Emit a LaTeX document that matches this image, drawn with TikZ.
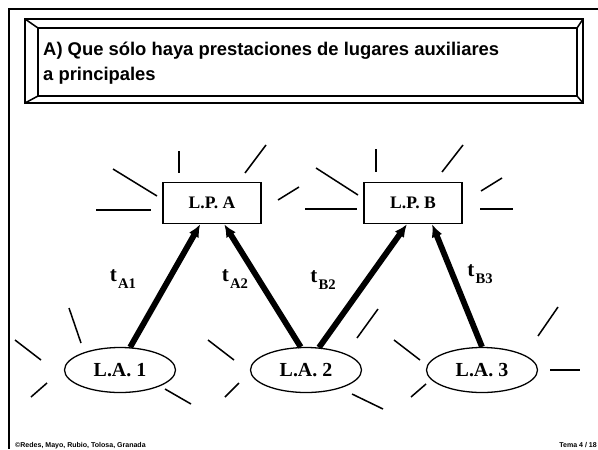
\documentclass[tikz,border=0pt]{standalone}
\usepackage{fontspec}
\setmainfont{Liberation Serif}
\setsansfont{Liberation Sans}
\usetikzlibrary{arrows.meta, shapes.geometric}

% label of a transition: t with a lowered index
\newcommand{\tlab}[1]{t\hspace{1pt}\raisebox{-0.3em}{\fontsize{12.5}{13}\selectfont #1}}

\begin{document}
\begin{tikzpicture}[x=0.03cm, y=-0.03cm]

        \tikzset{
            lugarp/.style={rectangle, draw=black, line width=1.3pt, minimum width=2.94cm, minimum height=1.23cm, font=\fontsize{15}{18}\selectfont\bfseries},
            lugara/.style={ellipse, draw=black, line width=1.1pt, minimum width=3.33cm, minimum height=1.35cm, inner sep=0pt, font=\fontsize{17}{19}\selectfont\bfseries},
            presta/.style={-{Latex[length=3.8mm, width=3.4mm]}, line width=5pt},
            rayo/.style={line width=1.3pt},
            etiq/.style={inner sep=0pt, font=\fontsize{18}{20}\selectfont\bfseries},
            pie/.style={inner sep=0pt, font=\sffamily\bfseries\fontsize{6}{7}\selectfont}
        }

        \useasboundingbox (0,0) rectangle (598,449);

        % frame of the slide
        \draw[line width=2.2pt] (598,9) -- (9,9) -- (9,449);

        % title, in a bevelled box
        \draw[line width=1.3pt] (25,19) rectangle (583,103);
        \draw[line width=1.3pt] (38,28) rectangle (577,96);
        \draw[line width=1.3pt] (25,19) -- (38,28);
        \draw[line width=1.3pt] (583,19) -- (577,28);
        \draw[line width=1.3pt] (25,103) -- (38,96);
        \draw[line width=1.3pt] (583,103) -- (577,96);
        \node[anchor=north west, inner sep=0pt, align=left, font=\sffamily\bfseries\fontsize{15.7}{21.3}\selectfont] (tit) at (43,42) {A) Que sólo haya prestaciones de lugares auxiliares\\a principales};

        % principal places, on top
        \node[lugarp] at (212,203) (lpa) {L.P. A};
        \node[lugarp] at (413,203) (lpb) {L.P. B};

        % auxiliary places, below
        \node[lugara] at (120,370) (la1) {L.A. 1};
        \node[lugara] at (306,370) (la2) {L.A. 2};
        \node[lugara] at (482,370) (la3) {L.A. 3};

        % rays round L.P. A
        \draw[rayo] (179,151) -- (179,173);
        \draw[rayo] (245,173) -- (266,145);
        \draw[rayo] (113,169) -- (157,196);
        \draw[rayo] (96,210) -- (151,210);
        \draw[rayo] (278,200) -- (299,187);

        % rays round L.P. B
        \draw[rayo] (376,149) -- (376,172);
        \draw[rayo] (442,172) -- (463,145);
        \draw[rayo] (316,168) -- (358,195);
        \draw[rayo] (305,209) -- (357,209);
        \draw[rayo] (481,191) -- (502,178);
        \draw[rayo] (480,209) -- (513,209);

        % rays round L.A. 1
        \draw[rayo] (69,308) -- (81,343);
        \draw[rayo] (15,340) -- (41,360);
        \draw[rayo] (31,397) -- (47,383);
        \draw[rayo] (165,389) -- (191,404);

        % rays round L.A. 2
        \draw[rayo] (208,340) -- (234,360);
        \draw[rayo] (225,397) -- (239,383);
        \draw[rayo] (352,394) -- (383,409);
        \draw[rayo] (357,338) -- (378,309);

        % rays round L.A. 3
        \draw[rayo] (394,340) -- (420,360);
        \draw[rayo] (411,397) -- (426,384);
        \draw[rayo] (538,336) -- (558,307);
        \draw[rayo] (550,370) -- (580,370);

        % transitions, auxiliary to principal
        \draw[presta] (la1.66) -- (lpa.241);
        \draw[presta] (la2.103) -- (lpa.300);
        \draw[presta] (la2.60) -- (lpb.254);
        \draw[presta] (la3.north) -- (lpb.312);

        % names of the transitions
        \node[etiq] at (123,279) (ta1) {\tlab{A1}};
        \node[etiq] at (235,279) (ta2) {\tlab{A2}};
        \node[etiq] at (323,280) (tb2) {\tlab{B2}};
        \node[etiq] at (480,274) (tb3) {\tlab{B3}};

        % footer
        \node[pie, anchor=base west] at (15,447) (pie1) {©Redes, Mayo, Rubio, Tolosa, Granada};
        \node[pie, anchor=base east] at (597,447) (pie2) {Tema 4 / 18};

    \end{tikzpicture}
\end{document}
